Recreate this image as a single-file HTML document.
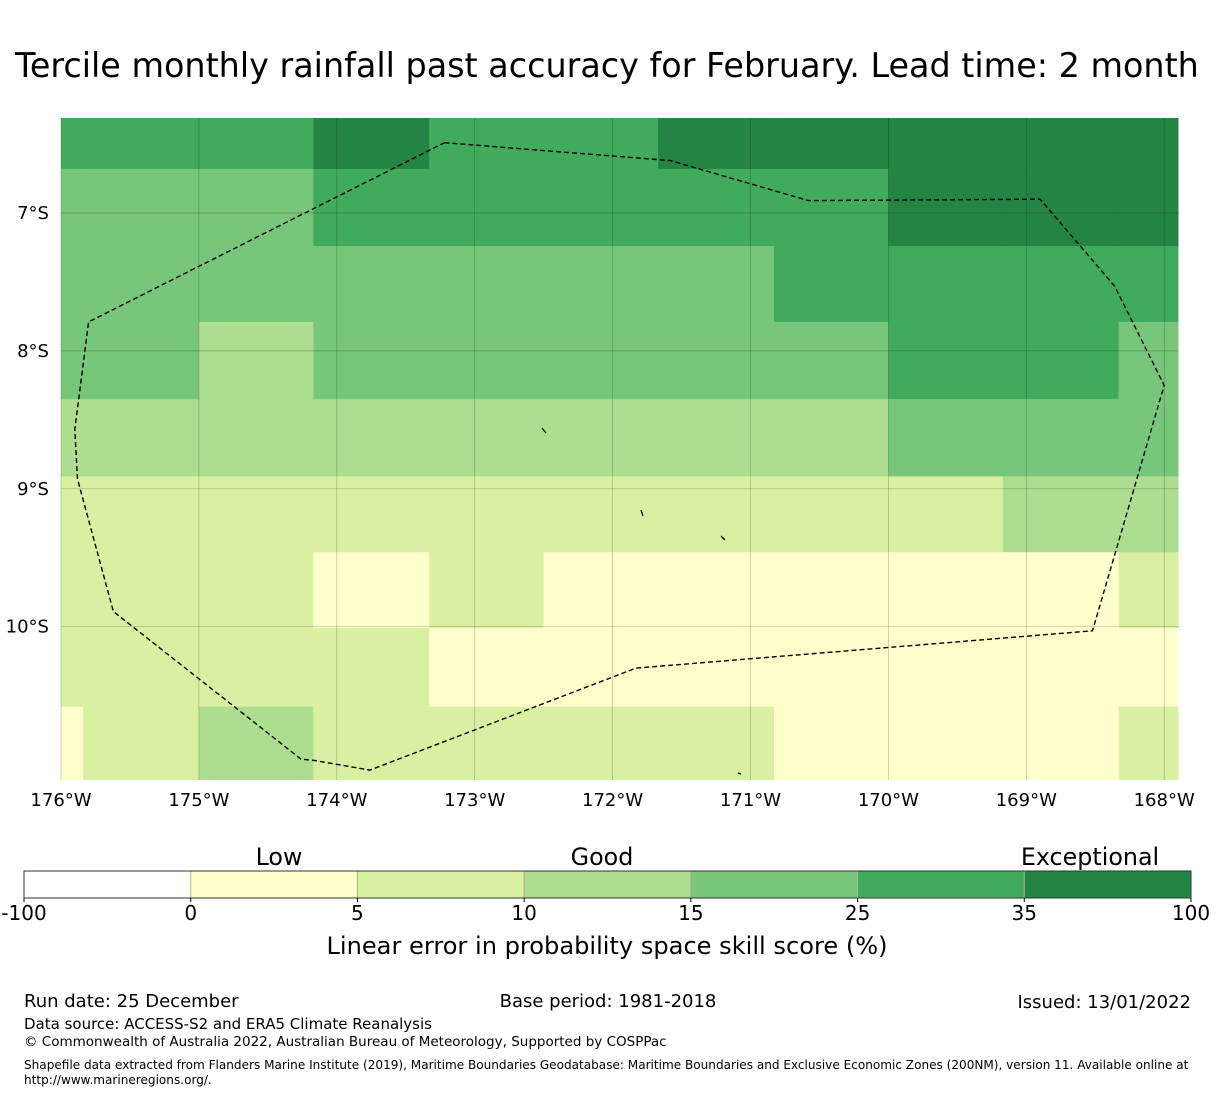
<!DOCTYPE html>
<html><head><meta charset="utf-8">
<style>
body{margin:0;background:#fff;font-family:"DejaVu Sans","Liberation Sans",sans-serif;}
svg text{font-family:"DejaVu Sans","Liberation Sans",sans-serif;fill:#000;}
</style></head>
<body>
<svg id="chart" width="1215" height="1095" viewBox="0 0 1215 1095" xmlns="http://www.w3.org/2000/svg">
<text x="607" y="77" font-size="33.4" text-anchor="middle">Tercile monthly rainfall past accuracy for February. Lead time: 2 month</text>
<g id="map"></g>
<g id="cbar"></g>
<text x="607" y="954" font-size="24.1" text-anchor="middle">Linear error in probability space skill score (%)</text>
<text x="24" y="1007" font-size="18">Run date: 25 December</text>
<text x="608" y="1007" font-size="18" text-anchor="middle">Base period: 1981-2018</text>
<text x="1191" y="1008" font-size="18" text-anchor="end">Issued: 13/01/2022</text>
<text x="24" y="1029" font-size="15">Data source: ACCESS-S2 and ERA5 Climate Reanalysis</text>
<text x="24" y="1046" font-size="13.5">© Commonwealth of Australia 2022, Australian Bureau of Meteorology, Supported by COSPPac</text>
<text x="24" y="1069" font-size="12.07">Shapefile data extracted from Flanders Marine Institute (2019), Maritime Boundaries Geodatabase: Maritime Boundaries and Exclusive Economic Zones (200NM), version 11. Available online at</text>
<text x="24" y="1084" font-size="12.07">http://www.marineregions.org/.</text>
</svg>
<script>
// data
const colEdges = [0, 0.16, 1.0, 1.83, 2.67, 3.5, 4.33, 5.17, 6.0, 6.83, 7.67, 8.1]; // degrees west offset from 176W
const rowEdges = [6.31, 6.68, 7.24, 7.79, 8.35, 8.91, 9.46, 10.01, 10.58, 11.12]; // deg S
const grid = [
 [30,30,30,50,30,30,50,50,50,50,50],
 [20,20,20,30,30,30,30,30,50,50,50],
 [20,20,20,20,20,20,20,30,30,30,30],
 [20,20,12,20,20,20,20,20,30,30,20],
 [12,12,12,12,12,12,12,12,20,20,20],
 [7,7,7,7,7,7,7,7,7,12,12],
 [7,7,7,2,7,2,2,2,2,2,7],
 [7,7,7,7,2,2,2,2,2,2,2],
 [2,7,12,7,7,7,7,2,2,2,7]
];
const levels = [-100,0,5,10,15,25,35,100];
const levelColors = ["#ffffff","#ffffcc","#d9f0a3","#addd8e","#78c679","#41ab5d","#238443"];
const lonTicks = [176,175,174,173,172,171,170,169,168];
const latTicks = [7,8,9,10];
const bandLabels = ["Low","Good","Exceptional"];
const boundaryLon = [173.22,171.58,170.58,168.9,168.36,168.0,168.52,171.83,173.76,174.16,174.26,175.62,175.88,175.9,175.8,173.22];
const boundaryLat = [6.49,6.62,6.91,6.9,7.53,8.25,10.03,10.3,11.04,10.97,10.96,9.89,8.93,8.57,7.79,6.49];

const NS="http://www.w3.org/2000/svg";
const X0=61, PX=137.9, Y0=213;
const xOf = lonW => X0 + (176-lonW)*PX;
const yOf = latS => Y0 + (latS-7)*PX;
function colorFor(v){for(let i=0;i<levels.length-1;i++){if(v<levels[i+1])return levelColors[i];}return levelColors[levelColors.length-1];}
function mk(tag,attrs,parent){const e=document.createElementNS(NS,tag);for(const k in attrs)e.setAttribute(k,attrs[k]);parent.appendChild(e);return e;}
const map=document.getElementById('map');
const mapL=61, mapR=1179, mapT=118, mapB=780;
for(let r=0;r<grid.length;r++){for(let c=0;c<grid[r].length;c++){
  const x1=Math.max(mapL,xOf(176-colEdges[c])), x2=Math.min(mapR,xOf(176-colEdges[c+1]));
  const y1=Math.max(mapT,yOf(rowEdges[r])), y2=Math.min(mapB,yOf(rowEdges[r+1]));
  const rc=mk('rect',{x:x1,y:y1,width:Math.min(x2-x1+0.5,mapR-x1),height:Math.min(y2-y1+0.5,mapB-y1),fill:colorFor(grid[r][c])},map);
  
  
}}
lonTicks.forEach(l=>{const x=xOf(l);
  const ln=mk('line',{x1:x,x2:x,y1:mapT,y2:mapB,stroke:'#000','stroke-opacity':0.25,'stroke-width':0.7},map);
  
  
  const t=mk('text',{x:x,y:806,'font-size':18,'text-anchor':'middle'},map);t.textContent=l+'°W';
  
  
});
latTicks.forEach(l=>{const y=yOf(l);
  const ln=mk('line',{x1:mapL,x2:mapR,y1:y,y2:y,stroke:'#000','stroke-opacity':0.25,'stroke-width':0.7},map);
  
  
  const t=mk('text',{x:49,y:y+6,'font-size':18,'text-anchor':'end'},map);t.textContent=l+'°S';
  
  
});
const pts=boundaryLon.map((l,i)=>xOf(l).toFixed(1)+','+yOf(boundaryLat[i]).toFixed(1)).join(' ');
const pl=mk('polyline',{points:pts,fill:'none',stroke:'#000','stroke-width':1.4,'stroke-dasharray':'5,3'},map);


[[542,428,546,433],[641,510,643,516],[721,536,725,540],[738,773,741,774]].forEach(p=>{
  const s=mk('line',{x1:p[0],y1:p[1],x2:p[2],y2:p[3],stroke:'#000','stroke-width':1.3},map);
  
  
});
// colorbar
const cb=document.getElementById('cbar');
const cbL=24, cbR=1191, cbT=871, cbB=898, n=levelColors.length, w=(cbR-cbL)/n;
levelColors.forEach((c,i)=>{
  const r=mk('rect',{x:cbL+i*w,y:cbT,width:w,height:cbB-cbT,fill:c,stroke:i>0?'#a8b48c':'none','stroke-width':1},cb);
  
  
});
mk('rect',{x:cbL,y:cbT,width:cbR-cbL,height:cbB-cbT,fill:'none',stroke:'#333','stroke-width':1},cb);
levels.forEach((v,i)=>{const x=cbL+i*w;
  mk('line',{x1:x,x2:x,y1:cbB,y2:cbB+4,stroke:'#000'},cb);
  const t=mk('text',{x:x,y:920,'font-size':20,'text-anchor':'middle'},cb);t.textContent=v;
  
  
});
const bandX=[279,602,1090];
bandLabels.forEach((b,i)=>{
  const t=mk('text',{x:bandX[i],y:865,'font-size':23.8,'text-anchor':'middle'},cb);t.textContent=b;
  
  
});
</script>
</body></html>
